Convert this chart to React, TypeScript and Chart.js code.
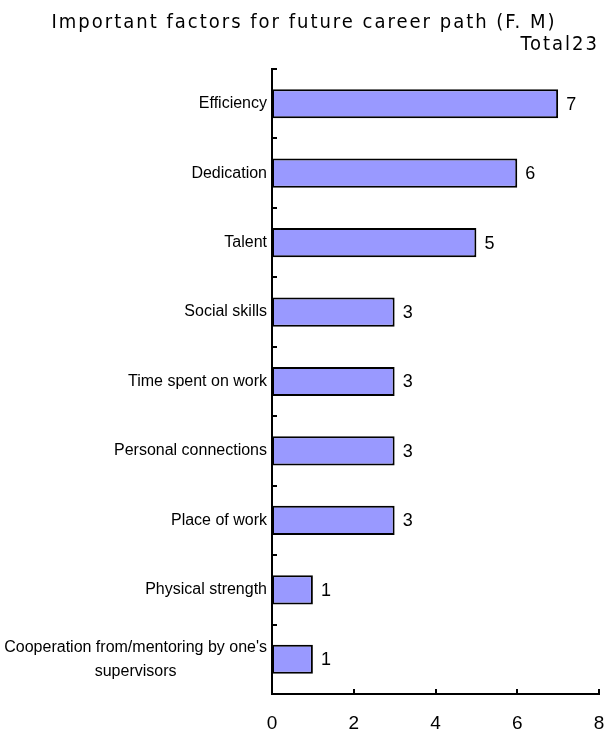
import React, { useEffect, useRef } from "react";
import { Chart, registerables } from "chart.js";

Chart.register(...registerables);

const TITLE = "Important factors for future career path (F. M)";
const SUBTITLE = "Total23";
const categories: string[][] = [
  ["Efficiency"],
  ["Dedication"],
  ["Talent"],
  ["Social skills"],
  ["Time spent on work"],
  ["Personal connections"],
  ["Place of work"],
  ["Physical strength"],
  ["Cooperation from/mentoring by one's", "supervisors"],
];
const values: number[] = [7, 6, 5, 3, 3, 3, 3, 1, 1];
const xTicks: number[] = [0, 2, 4, 6, 8];

const FONT = "'Liberation Sans', Arial, sans-serif";
const NARROW = "'Liberation Sans Narrow', 'DejaVu Sans Condensed', 'Liberation Sans', sans-serif";

const decorPlugin = {
  id: "decor",
  afterDatasetsDraw(chart: any) {
    const ctx = chart.ctx;
    const area = chart.chartArea;
    const y = chart.scales.y;
    const x = chart.scales.x;
    ctx.save();
    ctx.strokeStyle = "#000";
    ctx.lineWidth = 2;
    // y boundary ticks pointing inward
    const n = categories.length;
    const half = Math.abs(y.getPixelForValue(1) - y.getPixelForValue(0)) / 2;
    for (let i = 0; i <= n; i++) {
      const py = Math.round(y.getPixelForValue(Math.min(i, n - 1)) + (i < n ? -half : half));
      ctx.beginPath();
      ctx.moveTo(area.left, py);
      ctx.lineTo(area.left + 5, py);
      ctx.stroke();
    }
    // x ticks pointing up
    xTicks.forEach((v) => {
      const px = Math.round(x.getPixelForValue(v));
      ctx.beginPath();
      ctx.moveTo(px, area.bottom);
      ctx.lineTo(px, area.bottom - 5);
      ctx.stroke();
    });
    // category labels (multi-line centred on each other, right-aligned block)
    ctx.fillStyle = "#000";
    ctx.font = `16px ${FONT}`;
    ctx.textBaseline = "middle";
    ctx.textAlign = "center";
    const lineH = 24;
    categories.forEach((lines, i) => {
      const cy = y.getPixelForValue(i);
      const widths = lines.map((l) => ctx.measureText(l).width);
      const w = Math.max(...widths);
      const right = area.left - 5;
      const cx = right - w / 2;
      lines.forEach((l, j) => {
        ctx.fillText(l, cx, cy + (j - (lines.length - 1) / 2) * lineH);
      });
    });
    // value labels
    const meta = chart.getDatasetMeta(0);
    ctx.font = `18px ${FONT}`;
    ctx.textAlign = "left";
    meta.data.forEach((bar: any, i: number) => {
      ctx.fillText(String(values[i]), bar.x + 8, bar.y + 1);
    });
    // title
    ctx.font = `20px ${NARROW}`;
    (ctx as any).letterSpacing = "2px";
    ctx.textAlign = "center";
    ctx.fillText(TITLE, 304, 23);
    ctx.textAlign = "right";
    ctx.fillText(SUBTITLE, 599, 45);
    ctx.restore();
  },
};

export default function App() {
  const ref = useRef<HTMLCanvasElement>(null);
  useEffect(() => {
    if (!ref.current) return;
    const chart = new Chart(ref.current, {
      type: "bar",
      data: {
        labels: categories.map((c) => c.join(" ")),
        datasets: [
          {
            data: values,
            backgroundColor: "#9999FF",
            borderColor: "#000",
            borderWidth: 2,
            borderSkipped: false,
            categoryPercentage: 1,
            barPercentage: 0.42,
          },
        ],
      },
      plugins: [decorPlugin],
      options: {
        indexAxis: "y",
        animation: false,
        responsive: false,
        maintainAspectRatio: false,
        layout: { padding: { top: 69, right: 8, left: 0, bottom: 0 } },
        plugins: {
          legend: { display: false },
          tooltip: { enabled: false },
          title: { display: false },
        },
        scales: {
          x: {
            min: 0,
            max: 8,
            ticks: {
              stepSize: 2,
              color: "#000",
              font: { family: FONT, size: 19 },
              padding: 18,
            },
            grid: { display: false, drawTicks: false },
            border: { display: true, color: "#000", width: 2 },
            afterFit(scale: any) {
              scale.height = 42;
              scale.paddingLeft = 0;
              scale.paddingRight = 0;
            },
          },
          y: {
            ticks: { display: false },
            grid: { display: false, drawTicks: false },
            border: { display: true, color: "#000", width: 2 },
            afterFit(scale: any) {
              scale.width = 272;
              scale.paddingTop = 0;
              scale.paddingBottom = 0;
            },
          },
        },
      },
    } as any);
    return () => chart.destroy();
  }, []);
  return (
    <div style={{ position: "absolute", left: 0, top: 0, width: 607, height: 736, background: "#fff" }}>
      <canvas ref={ref} width={607} height={736} style={{ display: "block" }} />
    </div>
  );
}
